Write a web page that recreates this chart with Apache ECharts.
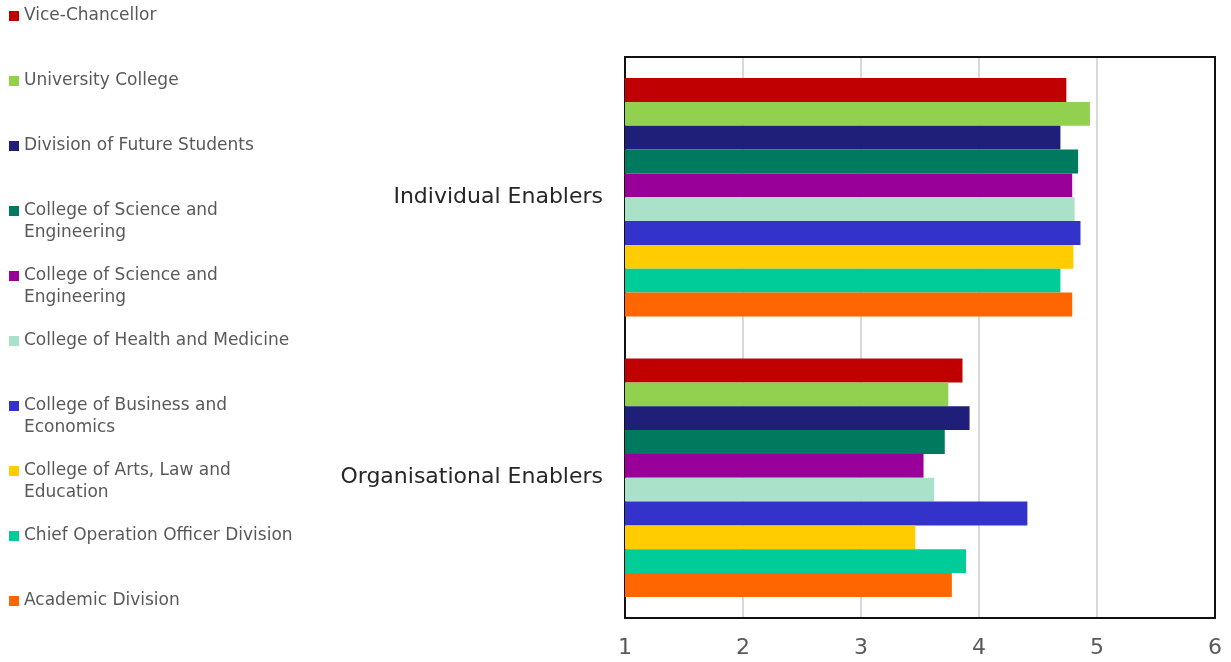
<!DOCTYPE html>
<html>
<head>
<meta charset="utf-8">
<script src="https://cdn.jsdelivr.net/npm/echarts@6/dist/echarts.min.js"></script>
<style>
html,body{margin:0;padding:0;background:#fff;}
#chart{width:1231px;height:662px;}
</style>
</head>
<body>
<div id="chart"></div>
<script>
const categories = ['Individual Enablers', 'Organisational Enablers'];
const seriesNames = [
  'Vice-Chancellor',
  'University College',
  'Division of Future Students',
  'College of Science and Engineering',
  'College of Science and Engineering',
  'College of Health and Medicine',
  'College of Business and Economics',
  'College of Arts, Law and Education',
  'Chief Operation Officer Division',
  'Academic Division'
];
const legendLabels = [
  'Vice-Chancellor',
  'University College',
  'Division of Future Students',
  'College of Science and\nEngineering',
  'College of Science and\nEngineering',
  'College of Health and Medicine',
  'College of Business and\nEconomics',
  'College of Arts, Law and\nEducation',
  'Chief Operation Officer Division',
  'Academic Division'
];
const colors = ['#C00000','#92D050','#1F1F7A','#007A5E','#990099','#A9E2C8','#3333CC','#FFCC00','#00CC99','#FF6600'];
const individualValues = [4.74, 4.94, 4.69, 4.84, 4.79, 4.81, 4.86, 4.80, 4.69, 4.79];
const organisationalValues = [3.86, 3.74, 3.92, 3.71, 3.53, 3.62, 4.41, 3.46, 3.89, 3.77];
const xTicks = [1, 2, 3, 4, 5, 6];

// unique internal names (duplicate labels get an invisible suffix)
const seen = {};
const uniqueNames = seriesNames.map(n => {
  let u = n;
  while (seen[u]) u += '\u200B';
  seen[u] = true;
  return u;
});

const FONT = 'DejaVu Sans';
const series = uniqueNames.map((n, i) => ({
  name: n,
  type: 'bar',
  data: [individualValues[i], organisationalValues[i]],
  itemStyle: { color: colors[i] },
  barGap: '0%',
  barCategoryGap: '15%'
}));

const legends = uniqueNames.map((n, i) => {
  const twoLine = legendLabels[i].indexOf('\n') >= 0;
  const center = 16 + 65 * i;
  return {
    orient: 'vertical',
    left: 9,
    top: twoLine ? center - 33 : center - 11,
    padding: 0,
    itemWidth: 10,
    itemHeight: 10,
    icon: 'rect',
    selectedMode: false,
    data: [{ name: n, itemStyle: { color: colors[i] } }],
    formatter: () => (twoLine ? ' \n' : '') + legendLabels[i],
    textStyle: {
      fontFamily: FONT,
      fontSize: 17,
      color: '#595959',
      lineHeight: 22
    }
  };
});

const chart = echarts.init(document.getElementById('chart'));
chart.setOption({
  animation: false,
  legend: legends,
  grid: { left: 625, right: 16, top: 57, bottom: 44 },
  xAxis: [{
    type: 'value',
    position: 'bottom',
    min: xTicks[0],
    max: xTicks[xTicks.length - 1],
    interval: 1,
    axisLine: { show: true, onZero: false, lineStyle: { color: '#111', width: 2 } },
    axisTick: { show: false },
    splitLine: { show: true, lineStyle: { color: '#D9D9D9', width: 2 } },
    axisLabel: { fontFamily: FONT, fontSize: 22, color: '#595959', margin: 19 }
  }, {
    type: 'value',
    position: 'top',
    min: xTicks[0],
    max: xTicks[xTicks.length - 1],
    interval: 1,
    axisLine: { show: true, onZero: false, lineStyle: { color: '#111', width: 2 } },
    axisTick: { show: false },
    splitLine: { show: false },
    axisLabel: { show: false }
  }],
  yAxis: [{
    type: 'category',
    position: 'left',
    inverse: true,
    data: categories,
    axisLine: { show: true, onZero: false, lineStyle: { color: '#111', width: 2 } },
    axisTick: { show: false },
    axisLabel: { fontFamily: FONT, fontSize: 22, color: '#262626', margin: 22 }
  }, {
    type: 'category',
    position: 'right',
    inverse: true,
    data: categories,
    axisLine: { show: true, onZero: false, lineStyle: { color: '#111', width: 2 } },
    axisTick: { show: false },
    axisLabel: { show: false }
  }],
  series: series
});
</script>
</body>
</html>
